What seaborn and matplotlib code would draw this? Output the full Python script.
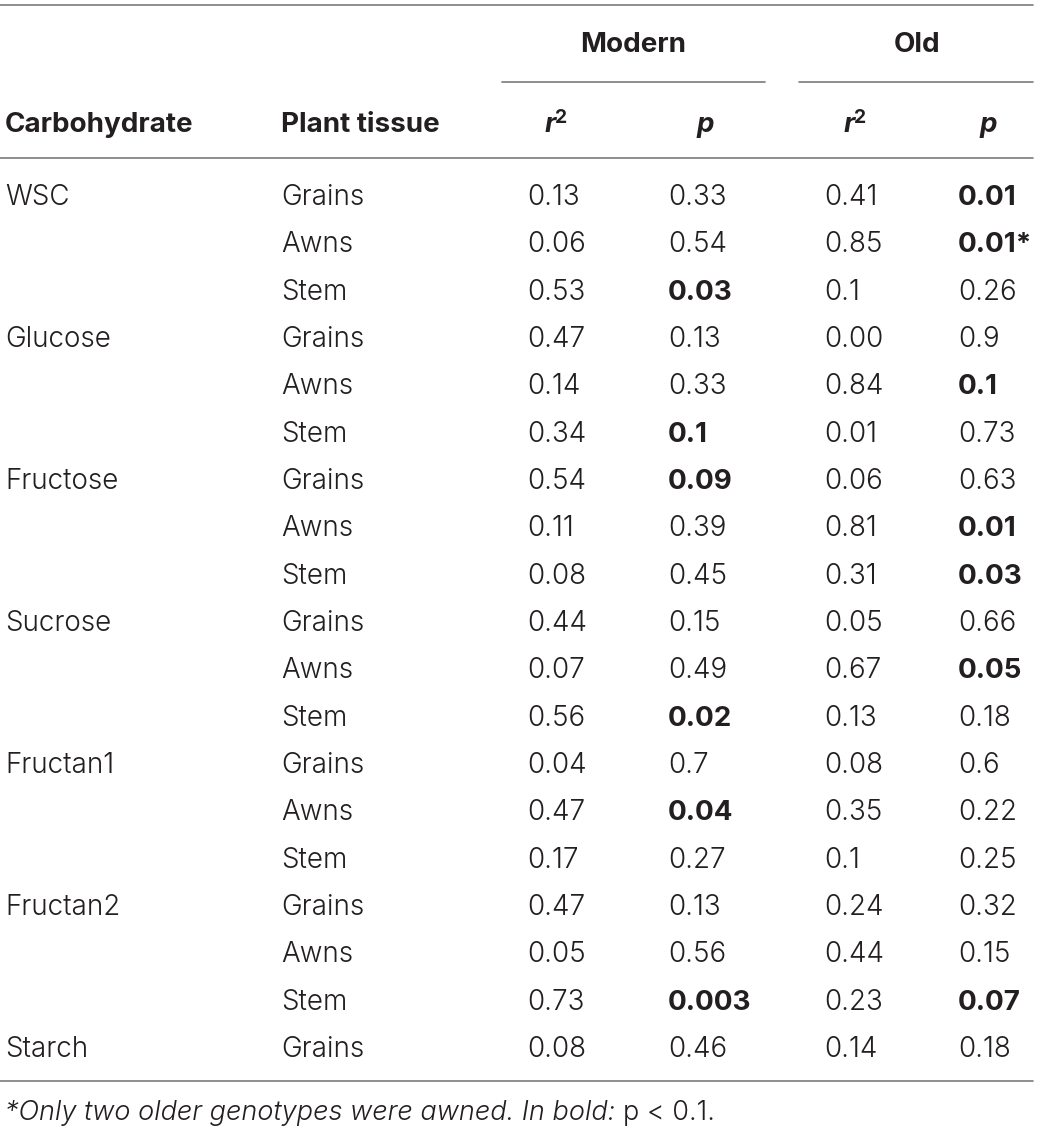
import matplotlib
matplotlib.use("Agg")
import matplotlib.pyplot as plt
import seaborn as sns
import pandas as pd

# table contents
carbohydrate = ["WSC", "", "", "Glucose", "", "", "Fructose", "", "", "Sucrose", "", "",
                "Fructan1", "", "", "Fructan2", "", "", "Starch"]
tissue = ["Grains", "Awns", "Stem"] * 6 + ["Grains"]
modern_r2 = ["0.13", "0.06", "0.53", "0.47", "0.14", "0.34", "0.54", "0.11", "0.08",
             "0.44", "0.07", "0.56", "0.04", "0.47", "0.17", "0.47", "0.05", "0.73", "0.08"]
modern_p = ["0.33", "0.54", "0.03", "0.13", "0.33", "0.1", "0.09", "0.39", "0.45",
            "0.15", "0.49", "0.02", "0.7", "0.04", "0.27", "0.13", "0.56", "0.003", "0.46"]
old_r2 = ["0.41", "0.85", "0.1", "0.00", "0.84", "0.01", "0.06", "0.81", "0.31",
          "0.05", "0.67", "0.13", "0.08", "0.35", "0.1", "0.24", "0.44", "0.23", "0.14"]
old_p = ["0.01", "0.01", "0.26", "0.9", "0.1", "0.73", "0.63", "0.01", "0.03",
         "0.66", "0.05", "0.18", "0.6", "0.22", "0.25", "0.32", "0.15", "0.07", "0.18"]
old_p_note = ["", "*"] + [""] * 17

df = pd.DataFrame({"Carbohydrate": carbohydrate, "Plant tissue": tissue,
                   "mod_r2": modern_r2, "mod_p": modern_p,
                   "old_r2": old_r2, "old_p": old_p})

sns.set_theme(style="white")
plt.rcParams["font.family"] = ["Inter", "DejaVu Sans"]

TXT = "#231f20"
RULE = "#7a7a7a"
FS = 20
LIGHT = 300
BOLD = 700

fig = plt.figure(figsize=(10.39, 11.30), dpi=100)
ax = fig.add_axes([0, 0, 1, 1])
ax.set_xlim(0, 1039)
ax.set_ylim(1130, 0)
ax.axis("off")

# rules
ax.plot([0, 1033], [5, 5], color=RULE, lw=1.2)
ax.plot([502, 765], [82, 82], color=RULE, lw=1.2)
ax.plot([799, 1033], [82, 82], color=RULE, lw=1.2)
ax.plot([0, 1033], [158, 158], color=RULE, lw=1.2)
ax.plot([0, 1033], [1081, 1081], color=RULE, lw=1.2)

# group headers
ax.text(633, 52, "Modern", ha="center", va="baseline", fontsize=FS, fontweight=BOLD, color=TXT)
ax.text(917, 52, "Old", ha="center", va="baseline", fontsize=FS, fontweight=BOLD, color=TXT)

# column headers
hy = 132
ax.text(5, hy, "Carbohydrate", ha="left", va="baseline", fontsize=FS, fontweight=BOLD, color=TXT)
ax.text(281, hy, "Plant tissue", ha="left", va="baseline", fontsize=FS, fontweight=BOLD, color=TXT)
for xc in [556, 855]:
    ax.text(xc, hy, "r", ha="right", va="baseline", fontsize=FS, fontweight=BOLD,
            style="italic", color=TXT)
    ax.text(xc - 1, hy - 9, "2", ha="left", va="baseline", fontsize=FS * 0.7,
            fontweight=BOLD, color=TXT)
for xc in [705, 988]:
    ax.text(xc, hy, "p", ha="center", va="baseline", fontsize=FS, fontweight=BOLD,
            style="italic", color=TXT)

# body rows
y0, dy = 205, 47.33
num_cols = [("mod_r2", 527, False), ("mod_p", 668, True),
            ("old_r2", 824, False), ("old_p", 958, True)]
for i, row in df.iterrows():
    y = y0 + i * dy
    ax.text(5, y, row["Carbohydrate"], ha="left", va="baseline", fontsize=FS,
            fontweight=LIGHT, color=TXT)
    ax.text(281, y, row["Plant tissue"], ha="left", va="baseline", fontsize=FS,
            fontweight=LIGHT, color=TXT)
    for col, x, is_p in num_cols:
        val = row[col]
        bold = is_p and float(val) <= 0.1
        label = val + (old_p_note[i] if col == "old_p" else "")
        ax.text(x, y, label, ha="left", va="baseline", fontsize=FS,
                fontweight=BOLD if bold else LIGHT, color=TXT)

# footnote
fig.canvas.draw()
t = ax.text(5, 1120, "*Only two older genotypes were awned. In bold: ", ha="left", va="baseline",
            fontsize=19.5, style="italic", fontweight=LIGHT, color=TXT)
bb = t.get_window_extent(renderer=fig.canvas.get_renderer())
x_end = ax.transData.inverted().transform((bb.x1, bb.y0))[0]
ax.text(x_end, 1120, "p < 0.1.", ha="left", va="baseline", fontsize=19.5,
        fontweight=LIGHT, color=TXT)

fig.savefig("out.png", dpi=100, facecolor="white")
